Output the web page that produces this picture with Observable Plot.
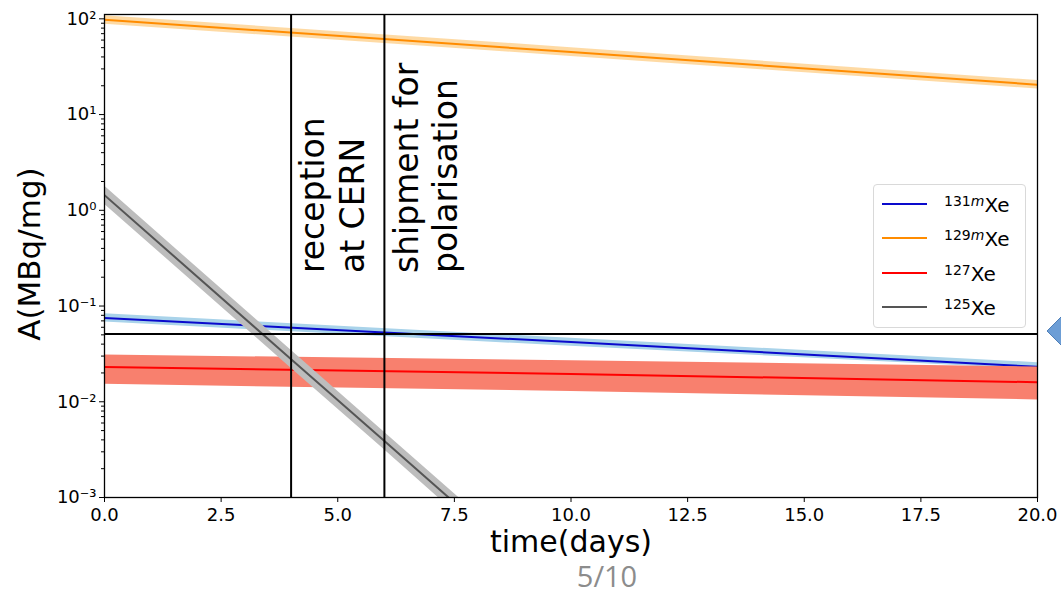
<!DOCTYPE html>
<html><head><meta charset="utf-8">
<script src="https://cdn.jsdelivr.net/npm/d3@7"></script>
<script src="https://cdn.jsdelivr.net/npm/@observablehq/plot@0.6"></script>
<style>
body{margin:0;background:#fff;}
#wrap{position:relative;width:1061px;height:595px;overflow:hidden;font-family:"DejaVu Sans",sans-serif;}
#legend{position:absolute;left:873px;top:184px;width:151px;height:142px;border:1px solid #d9d9d9;border-radius:4px;background:rgba(255,255,255,0.85);}
.sw{position:absolute;left:8px;width:45px;height:2px;}
.lab{position:absolute;left:70px;font-size:20px;line-height:20px;white-space:nowrap;color:#000;}
.lab sup{font-size:14px;line-height:0;vertical-align:6px;}
#arrow{position:absolute;left:1040px;top:300px;}
</style></head><body><div id="wrap"></div>
<script>
// ---- data ----
const series = ["131m", "129m", "127", "125"];
const lineColors = ["#0a0acc", "#ff8c00", "#ff0000", "#555555"];
const bandColors = ["#a9d3ea", "#fdca7e", "#f8806e", "#bdbdbd"];

const time = [0, 10, 20];
const xe131m = [0.075, 0.042, 0.0232];
const xe131mLo = [0.068, 0.038, 0.0218];
const xe131mHi = [0.083, 0.046, 0.0256];
const xe129m = [98, 45, 20.5];
const xe129mLo = [88, 40.5, 18.5];
const xe129mHi = [108, 50, 22.7];
const xe127 = [0.0231, 0.0195, 0.0160];
const xe127Lo = [0.0152, 0.0128, 0.01045];
const xe127Hi = [0.0308, 0.0268, 0.0231];

const time125 = [0, 4, 6, 8];
const xe125 = [1.44, 0.0278, 0.0039, 0.00054];
const xe125Lo = [1.16, 0.0224, 0.00315, 0.00043];
const xe125Hi = [1.79, 0.0345, 0.0048, 0.00067];

const eventTimes = [4, 6];
const eventLabels = ["reception\nat CERN", "shipment for\npolarisation"];
const eventLabelY = [0.221, 0.221];
const threshold = [0.051];

const xTicks = [0, 2.5, 5, 7.5, 10, 12.5, 15, 17.5, 20];
const yTicks = [0.001, 0.01, 0.1, 1, 10, 100];
const yTickLabels = ["10⁻³", "10⁻²", "10⁻¹", "10⁰", "10¹", "10²"];
const minorTicks = [];
for (const dec of [0.001, 0.01, 0.1, 1, 10]) for (const m of [2,3,4,5,6,7,8,9]) minorTicks.push(dec * m);

// ---- tables ----
const rows = (name, t, v, lo, hi) => t.map((d, i) => ({series: name, t: d, v: v[i], lo: lo[i], hi: hi[i]}));
const tables = [
  rows("131m", time, xe131m, xe131mLo, xe131mHi),
  rows("129m", time, xe129m, xe129mLo, xe129mHi),
  rows("127", time, xe127, xe127Lo, xe127Hi),
  rows("125", time125, xe125, xe125Lo, xe125Hi)
];
const events = eventTimes.map((t, i) => ({t, y: eventLabelY[i], label: eventLabels[i]}));

const seriesMarks = [];
tables.forEach((tab, i) => {
  seriesMarks.push(Plot.areaY(tab, {x: "t", y1: "lo", y2: "hi", fill: bandColors[i], fillOpacity: i === 1 ? 0.7 : 1, clip: true}));
  seriesMarks.push(Plot.lineY(tab, {x: "t", y: "v", stroke: lineColors[i], strokeWidth: 2, clip: true}));
});

const chart = Plot.plot({
  width: 1061, height: 595,
  marginLeft: 104, marginRight: 24, marginTop: 14, marginBottom: 98,
  style: {fontFamily: "DejaVu Sans", fontSize: "18px", color: "black", background: "transparent"},
  x: {domain: [0, 20]},
  y: {type: "log", domain: [0.001, 111]},
  marks: [
    ...seriesMarks,
    Plot.ruleX(eventTimes, {x: d => d, stroke: "black", strokeWidth: 2}),
    Plot.ruleY(threshold, {y: d => d, stroke: "black", strokeWidth: 2}),
    Plot.text(events, {x: "t", y: "y", text: "label", rotate: -90, textAnchor: "start", lineAnchor: "top", fontSize: 33, lineHeight: 1.2, dx: 5, fill: "black"}),
    Plot.frame({stroke: "black", strokeWidth: 1.3}),
    Plot.axisX(xTicks, {tickFormat: d => d.toFixed(1), tickSize: 5, tickPadding: 6, fontSize: 18, label: null}),
    Plot.axisY(yTicks, {tickFormat: d => yTickLabels[yTicks.indexOf(d)], tickSize: 5, tickPadding: 3, fontSize: 18, label: null}),
    Plot.axisY(minorTicks, {tickSize: 3, tickFormat: () => "", label: null}),
    Plot.text(["time(days)"], {frameAnchor: "bottom", textAnchor: "middle", lineAnchor: "middle", dy: 45, fontSize: 30, text: d => d, fill: "black"}),
    Plot.text(["A(MBq/mg)"], {frameAnchor: "left", textAnchor: "middle", lineAnchor: "middle", dx: -74, dy: -2, rotate: -90, fontSize: 31, text: d => d, fill: "black"}),
    Plot.text(["5/10"], {frameAnchor: "bottom", textAnchor: "middle", lineAnchor: "middle", dx: 36, dy: 80, fontSize: 29, text: d => d, fill: "#8c8c8c", fontFamily: "Open Sans"})
  ]
});

const wrap = document.getElementById("wrap");
wrap.appendChild(chart);

// legend
const legend = document.createElement("div");
legend.id = "legend";
const rowTops = [10, 44, 79, 113];
series.forEach((s, i) => {
  const sw = document.createElement("div");
  sw.className = "sw";
  sw.style.top = (rowTops[i] + 8) + "px";
  sw.style.background = lineColors[i];
  legend.appendChild(sw);
  const lab = document.createElement("div");
  lab.className = "lab";
  lab.style.top = rowTops[i] + "px";
  const num = s.replace("m", "");
  lab.innerHTML = "<sup>" + num + (s.endsWith("m") ? "<i>m</i>" : "") + "</sup>Xe";
  legend.appendChild(lab);
});
wrap.appendChild(legend);

// slide navigation arrow (decoration at right edge)
const arrow = document.createElementNS("http://www.w3.org/2000/svg", "svg");
arrow.setAttribute("id", "arrow");
arrow.setAttribute("width", "30");
arrow.setAttribute("height", "62");
arrow.innerHTML = '<polygon points="7,31 30,8 30,54" fill="#6d9ed6" stroke="#4f7fb8" stroke-width="1"/>';
wrap.appendChild(arrow);
</script></body></html>
